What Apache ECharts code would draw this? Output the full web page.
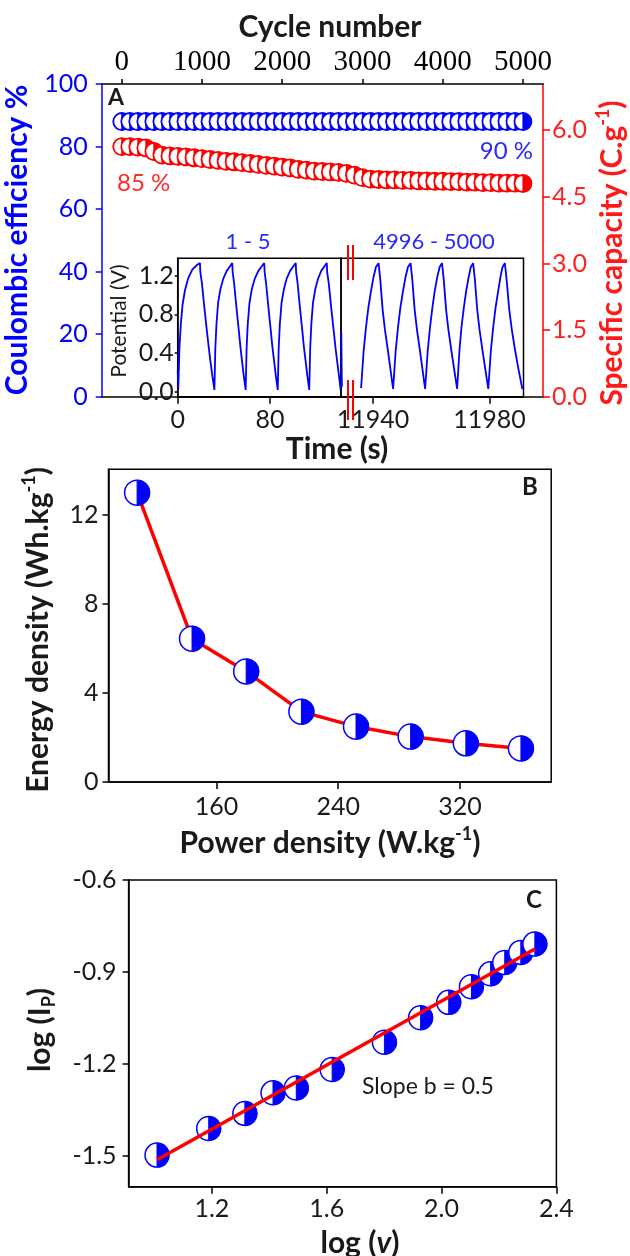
<!DOCTYPE html>
<html>
<head>
<meta charset="utf-8">
<script src="https://cdn.jsdelivr.net/npm/echarts@6/dist/echarts.min.js"></script>
<style>html,body{margin:0;padding:0;background:#fff}#c{width:630px;height:1256px}</style>
</head>
<body>
<div id="c"></div>
<script>
// ---------- Panel A data ----------
const cycles = [0,100,200,300,400,500,600,700,800,900,1000,1100,1200,1300,1400,1500,1600,1700,1800,1900,2000,2100,2200,2300,2400,2500,2600,2700,2800,2900,3000,3100,3200,3300,3400,3500,3600,3700,3800,3900,4000,4100,4200,4300,4400,4500,4600,4700,4800,4900,5000];
const coulombicEff = [88.0,88.0,88.0,88.0,88.0,88.0,88.0,88.0,88.0,88.0,88.0,88.0,88.0,88.0,88.0,88.0,88.0,88.0,88.0,88.0,88.0,88.0,88.0,88.0,88.0,88.0,88.0,88.0,88.0,88.0,88.0,88.0,88.0,88.0,88.0,88.0,88.0,88.0,88.0,88.0,88.0,88.0,88.0,88.0,88.0,88.0,88.0,88.0,88.0,88.0,88.0];
const specCapacity = [5.63,5.63,5.62,5.60,5.52,5.44,5.42,5.41,5.40,5.38,5.36,5.34,5.32,5.30,5.29,5.27,5.25,5.23,5.21,5.19,5.17,5.15,5.12,5.10,5.08,5.07,5.06,5.05,5.03,4.99,4.93,4.90,4.89,4.88,4.88,4.87,4.87,4.86,4.86,4.85,4.85,4.84,4.84,4.83,4.83,4.82,4.82,4.81,4.81,4.81,4.80];
const cycleTicks = [0,1000,2000,3000,4000,5000];
const ceTicks = [0,20,40,60,80,100];
const capTicks = [0,1.5,3.0,4.5,6.0];

// inset: cycles 1-5
const timeLeft = [0,0.5,1.5,2.7,4.2,6.3,9.0,12.5,16.5,19.3,19.6,21.0,23.2,25.2,26.8,28.2,30.1,31.8,
  32.6,33.6,35.0,37.0,39.5,42.5,45.5,47.3,47.6,48.9,51.0,52.9,54.3,55.6,57.3,58.9,
  59.7,60.7,62.2,64.2,66.8,69.9,73.0,75.0,75.3,76.6,78.7,80.6,82.0,83.4,85.1,86.7,
  87.5,88.5,90.0,92.0,94.4,97.4,100.4,102.3,102.6,103.9,106.0,107.9,109.3,110.7,112.4,114.0,
  114.8,115.8,117.2,119.2,121.6,124.4,127.3,129.2,129.5,130.9,133.1,135.1,136.6,138.0,139.8,141.2];
const potLeft = [0.22,0.03,0.45,0.70,0.90,1.05,1.17,1.26,1.31,1.33,1.24,1.12,0.86,0.64,0.47,0.33,0.16,0.02,
  0.45,0.70,0.92,1.06,1.17,1.25,1.30,1.33,1.24,1.12,0.86,0.64,0.47,0.33,0.16,0.02,
  0.45,0.70,0.92,1.06,1.17,1.25,1.30,1.33,1.24,1.12,0.86,0.64,0.47,0.33,0.16,0.02,
  0.45,0.70,0.92,1.06,1.17,1.25,1.30,1.33,1.24,1.12,0.86,0.64,0.47,0.33,0.16,0.02,
  0.45,0.70,0.92,1.06,1.17,1.25,1.30,1.33,1.24,1.12,0.86,0.64,0.47,0.33,0.16,0.02];
// inset: cycles 4996-5000
const timeRightStart = [11929.1,11929.3];
const potRightStart = [0.61,0.05];
const timeRight = [11935.9,11936.8,11937.6,11938.4,11939.3,11940.2,11941.0,11941.9,11942.5,11943.3,11944.1,11945.1,11946.0,11946.9,
  11947.8,11948.6,11949.4,11950.3,11951.2,11952.0,11952.9,11953.5,11954.3,11955.1,11956.1,11957.0,11957.9,
  11958.8,11959.6,11960.4,11961.2,11962.1,11962.9,11963.7,11964.3,11965.1,11965.9,11966.9,11967.9,11968.9,
  11969.7,11970.4,11971.2,11972.0,11972.9,11973.6,11974.4,11975.0,11975.8,11976.6,11977.6,11978.6,11979.6,
  11980.5,11981.3,11982.1,11983.0,11983.8,11984.5,11985.3,11985.9,11986.8,11987.7,11988.8,11990.0,11991.3];
const potRight = [0.04,0.43,0.67,0.87,1.04,1.19,1.29,1.33,1.16,0.85,0.64,0.43,0.23,0.03,
  0.43,0.67,0.87,1.04,1.19,1.29,1.33,1.16,0.85,0.64,0.43,0.23,0.03,
  0.43,0.67,0.87,1.04,1.19,1.29,1.33,1.16,0.85,0.64,0.43,0.23,0.03,
  0.43,0.67,0.87,1.04,1.19,1.29,1.33,1.16,0.85,0.64,0.43,0.23,0.03,
  0.43,0.67,0.87,1.04,1.19,1.29,1.33,1.16,0.85,0.64,0.43,0.23,0.03];
const timeTicksLeft = [0,80];
const timeTicksRight = [11940,11980];
const potTicks = [0,0.4,0.8,1.2];

// ---------- Panel B data ----------
const powerDensity = [107.8,143.9,179.5,215.8,251.7,287.6,323.9,360.1];
const energyDensity = [13.0,6.44,4.97,3.16,2.49,2.04,1.74,1.51];
const pdTicks = [160,240,320];
const edTicks = [0,4,8,12];

// ---------- Panel C data ----------
const logV = [1.009,1.189,1.315,1.413,1.494,1.619,1.801,1.927,2.025,2.104,2.171,2.220,2.276,2.325];
const logIp = [-1.497,-1.410,-1.361,-1.294,-1.278,-1.218,-1.129,-1.049,-0.999,-0.948,-0.906,-0.869,-0.836,-0.809];
const fitLogV = [1.009,2.325];
const fitLogIp = [-1.512,-0.825];
const logvTicks = [1.2,1.6,2.0,2.4];
const logITicks = [-1.5,-1.2,-0.9,-0.6];

// ---------- helpers ----------
const BLUE = '#0000ff', RED = '#ff0000', DARK = '#1a1a1a';
const SANS = 'Lato', SERIF = 'Liberation Serif';
const zip = (a, b) => a.map((v, i) => [v, b[i]]);

function halfMarker(color, r, lw) {
  return function (params, api) {
    const p = api.coord([api.value(0), api.value(1)]);
    return {
      type: 'group',
      children: [
        {type: 'circle', shape: {cx: p[0], cy: p[1], r: r}, style: {fill: '#fff', stroke: color, lineWidth: lw || 1.5}},
        {type: 'sector', shape: {cx: p[0], cy: p[1], r0: 0, r: r, startAngle: -Math.PI / 2, endAngle: Math.PI / 2, clockwise: true}, style: {fill: color, stroke: color, lineWidth: 1}}
      ]
    };
  };
}

function valueAxis(o) {
  const base = {
    type: 'value', scale: false, splitLine: {show: false},
    axisLine: {show: true, onZero: false, lineStyle: {color: o.color || '#000', width: 1.5}},
    axisTick: {show: true, inside: false, length: o.tickLen || 6, lineStyle: {color: o.color || '#000', width: 1.5}, customValues: o.ticks},
    axisLabel: {show: true, customValues: o.ticks, margin: o.margin || 8, color: o.labelColor || o.color || DARK,
      fontFamily: o.font || SANS, fontSize: o.fontSize || 25, formatter: o.fmt || (v => String(v))}
  };
  return Object.assign(base, o.extra);
}

const titleFont = 30;
function richTitle(color) {
  return {
    b: {fontFamily: SANS, fontWeight: 'bold', fontSize: titleFont, lineHeight: 36, fill: color, color: color},
    s: {fontFamily: SANS, fontWeight: 'bold', fontSize: 18, lineHeight: 18, verticalAlign: 'top', fill: color, color: color},
    d: {fontFamily: SANS, fontWeight: 'bold', fontSize: 18, lineHeight: 18, verticalAlign: 'bottom', fill: color, color: color},
    i: {fontFamily: SANS, fontWeight: 'bold', fontStyle: 'italic', fontSize: titleFont, lineHeight: 36, fill: color, color: color}
  };
}
function gText(x, y, text, opt) {
  opt = opt || {};
  return {
    type: 'text', x: x, y: y, rotation: opt.rot || 0, z: 100,
    style: {
      text: text, rich: opt.rich, fill: opt.color || DARK,
      font: (opt.weight || 'normal') + ' ' + (opt.size || 24) + 'px ' + (opt.family || SANS),
      align: opt.align || 'center', verticalAlign: 'middle'
    }
  };
}
function vline(x, y1, y2, color, w) {
  return {type: 'line', z: 100, shape: {x1: x, y1: y1, x2: x, y2: y2}, style: {stroke: color, lineWidth: w}};
}

const chart = echarts.init(document.getElementById('c'), null, {renderer: 'canvas'});
const gridCommon = {containLabel: false, outerBoundsMode: 'none'};
const option = {
  animation: false,
  backgroundColor: '#fff',
  textStyle: {fontFamily: SANS},
  grid: [
    Object.assign({left: 101.7, top: 84, width: 441.3, height: 312.7}, gridCommon),
    Object.assign({left: 177.7, top: 258.3, width: 163.3, height: 138.4, show: true, borderColor: '#000', borderWidth: 1.5, backgroundColor: 'transparent'}, gridCommon),
    Object.assign({left: 341, top: 258.3, width: 182.5, height: 138.4, show: true, borderColor: '#000', borderWidth: 1.5, backgroundColor: 'transparent'}, gridCommon),
    Object.assign({left: 108.5, top: 469.3, width: 442.7, height: 312.7, show: true, borderColor: '#000', borderWidth: 1.5, backgroundColor: 'transparent'}, gridCommon),
    Object.assign({left: 128.6, top: 880, width: 427.8, height: 306.7, show: true, borderColor: '#000', borderWidth: 1.5, backgroundColor: 'transparent'}, gridCommon)
  ],
  xAxis: [
    valueAxis({ticks: cycleTicks, color: '#000', labelColor: '#000', font: SERIF, fontSize: 29, tickLen: 5, margin: 7,
      extra: {gridIndex: 0, position: 'top', min: -250, max: 5250}}),
    Object.assign(valueAxis({ticks: [], color: '#000'}), {gridIndex: 0, position: 'bottom', min: -250, max: 5250, axisTick: {show: false}, axisLabel: {show: false}}),
    valueAxis({ticks: timeTicksLeft, color: '#000', labelColor: DARK, tickLen: 7, margin: 11,
      extra: {gridIndex: 1, position: 'bottom', min: 0, max: 141.5}}),
    valueAxis({ticks: timeTicksRight, color: '#000', labelColor: DARK, tickLen: 7, margin: 11,
      extra: {gridIndex: 2, position: 'bottom', min: 11929, max: 11991.7}}),
    valueAxis({ticks: pdTicks, color: '#000', labelColor: DARK, tickLen: 7, margin: 12,
      extra: {gridIndex: 3, position: 'bottom', min: 89, max: 380}}),
    valueAxis({ticks: logvTicks, color: '#000', labelColor: DARK, tickLen: 7, margin: 10, fmt: v => v.toFixed(1),
      extra: {gridIndex: 4, position: 'bottom', min: 0.91, max: 2.4}})
  ],
  yAxis: [
    valueAxis({ticks: ceTicks, color: BLUE, tickLen: 6, margin: 14,
      extra: {gridIndex: 0, position: 'left', min: 0, max: 100}}),
    valueAxis({ticks: capTicks, color: RED, labelColor: '#ff2222', tickLen: 7, margin: 9, fmt: v => v.toFixed(1),
      extra: {gridIndex: 0, position: 'right', min: 0, max: 7.04}}),
    valueAxis({ticks: potTicks, color: '#000', labelColor: DARK, tickLen: 3, margin: 4, fmt: v => v.toFixed(1),
      extra: {gridIndex: 1, position: 'left', min: -0.05, max: 1.38}}),
    Object.assign(valueAxis({ticks: [], color: '#000'}), {gridIndex: 2, position: 'left', min: -0.05, max: 1.38, axisLine: {show: false}, axisTick: {show: false}, axisLabel: {show: false}}),
    valueAxis({ticks: edTicks, color: '#000', labelColor: DARK, tickLen: 6, margin: 10,
      extra: {gridIndex: 3, position: 'left', min: 0, max: 14.05}}),
    valueAxis({ticks: logITicks, color: '#000', labelColor: DARK, tickLen: 6, margin: 12, fmt: v => v.toFixed(1),
      extra: {gridIndex: 4, position: 'left', min: -1.6, max: -0.6}})
  ],
  series: [
    {type: 'custom', name: 'Coulombic efficiency', coordinateSystem: 'cartesian2d', xAxisIndex: 0, yAxisIndex: 0,
      renderItem: halfMarker(BLUE, 8.5, 1.8), encode: {x: 0, y: 1}, data: zip(cycles, coulombicEff), z: 3},
    {type: 'custom', name: 'Specific capacity', coordinateSystem: 'cartesian2d', xAxisIndex: 0, yAxisIndex: 1,
      renderItem: halfMarker(RED, 8.5, 1.8), encode: {x: 0, y: 1}, data: zip(cycles, specCapacity), z: 3},
    {type: 'line', name: 'cycles 1-5', xAxisIndex: 2, yAxisIndex: 2, data: zip(timeLeft, potLeft),
      showSymbol: false, symbol: 'none', lineStyle: {color: BLUE, width: 1.8}, z: 4},
    {type: 'line', name: 'cycles 4996-5000 start', xAxisIndex: 3, yAxisIndex: 3, data: zip(timeRightStart, potRightStart),
      showSymbol: false, symbol: 'none', lineStyle: {color: BLUE, width: 1.8}, z: 4},
    {type: 'line', name: 'cycles 4996-5000', xAxisIndex: 3, yAxisIndex: 3, data: zip(timeRight, potRight),
      showSymbol: false, symbol: 'none', lineStyle: {color: BLUE, width: 1.8}, z: 4},
    {type: 'line', name: 'Ragone line', xAxisIndex: 4, yAxisIndex: 4, data: zip(powerDensity, energyDensity),
      showSymbol: false, symbol: 'none', lineStyle: {color: RED, width: 3.5}, z: 2},
    {type: 'custom', name: 'Ragone points', coordinateSystem: 'cartesian2d', xAxisIndex: 4, yAxisIndex: 4,
      renderItem: halfMarker(BLUE, 12.5), encode: {x: 0, y: 1}, data: zip(powerDensity, energyDensity), z: 3},
    {type: 'custom', name: 'log points', coordinateSystem: 'cartesian2d', xAxisIndex: 5, yAxisIndex: 5,
      renderItem: halfMarker(BLUE, 12), encode: {x: 0, y: 1}, data: zip(logV, logIp), z: 2},
    {type: 'line', name: 'fit', xAxisIndex: 5, yAxisIndex: 5, data: zip(fitLogV, fitLogIp),
      showSymbol: false, symbol: 'none', lineStyle: {color: RED, width: 3.5}, z: 3}
  ],
  graphic: [
    // Panel A titles and annotations
    gText(330, 27, 'Cycle number', {weight: 'bold', size: titleFont}),
    gText(17, 240, 'Coulombic efficiency %', {weight: 'bold', size: titleFont, color: BLUE, rot: Math.PI / 2}),
    gText(612, 253, '{b|Specific capacity (C.g}{s|-1}{b|)}', {rich: richTitle('#ff1a1a'), color: '#ff1a1a', rot: Math.PI / 2}),
    gText(337, 449, 'Time (s)', {weight: 'bold', size: titleFont}),
    gText(108, 98, 'A', {weight: 'bold', size: 23, align: 'left'}),
    gText(117, 183, '85 %', {size: 24, color: '#ff2a2a', align: 'left'}),
    gText(533, 151, '90 %', {size: 24, color: '#2a2aff', align: 'right'}),
    gText(248, 242, '1 - 5', {size: 22, color: '#2a2aff'}),
    gText(434, 242, '4996 - 5000', {size: 22, color: '#2a2aff'}),
    gText(119, 321, 'Potential (V)', {size: 21, color: DARK, rot: Math.PI / 2}),
    vline(348, 245, 280, RED, 2), vline(353, 245, 280, RED, 2),
    vline(348, 380, 420, RED, 2), vline(353, 380, 420, RED, 2),
    // Panel B
    gText(530, 487, 'B', {weight: 'bold', size: 24}),
    gText(38, 630, '{b|Energy density (Wh.kg}{s|-1}{b|)}', {rich: richTitle(DARK), rot: Math.PI / 2}),
    gText(330, 843, '{b|Power density (W.kg}{s|-1}{b|)}', {rich: richTitle(DARK)}),
    // Panel C
    gText(534, 900, 'C', {weight: 'bold', size: 24}),
    gText(40, 1030, '{b|log (I}{d|P}{b|)}', {rich: richTitle(DARK), rot: Math.PI / 2}),
    gText(360, 1243, '{b|log (}{i|v}{b|)}', {rich: richTitle(DARK)}),
    gText(362, 1087, 'Slope b = 0.5', {size: 23, align: 'left'})
  ]
};
chart.setOption(option);
</script>
</body>
</html>
